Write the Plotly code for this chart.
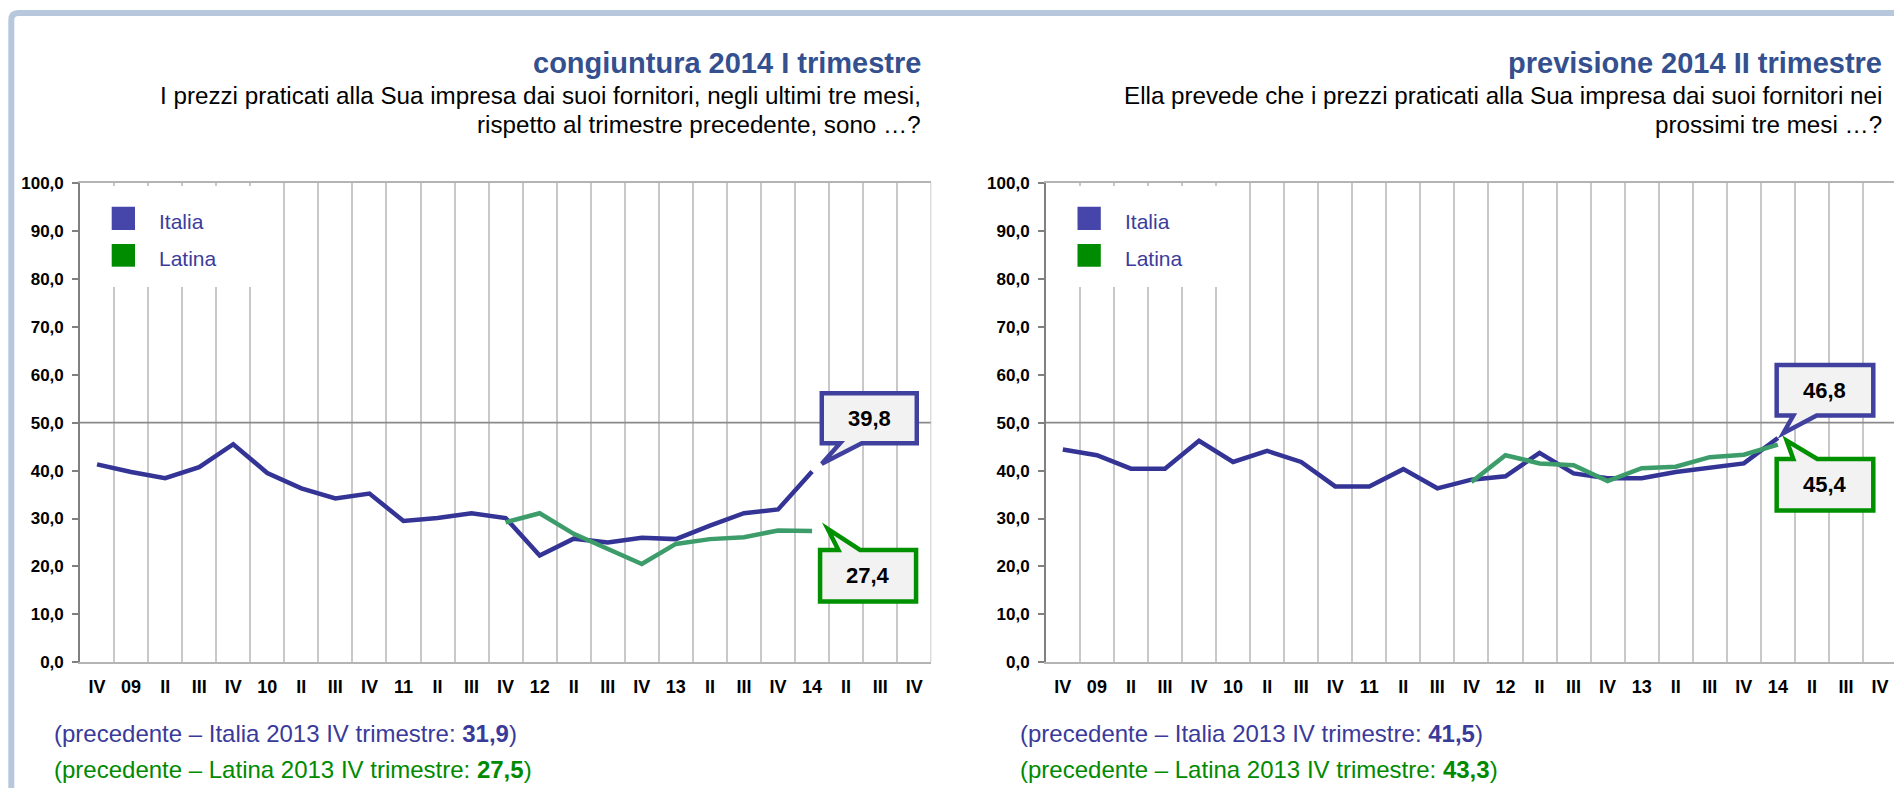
import plotly.graph_objects as go

# ---------------- data ----------------
categories = ["IV", "09", "II", "III", "IV", "10", "II", "III", "IV", "11", "II", "III",
              "IV", "12", "II", "III", "IV", "13", "II", "III", "IV", "14", "II", "III", "IV"]

cong_italia = [41.3, 39.7, 38.4, 40.7, 45.5, 39.5, 36.3, 34.2, 35.2, 29.5, 30.1, 31.1,
               30.1, 22.3, 25.8, 25.0, 26.0, 25.7, 28.5, 31.1, 31.9, 39.8]
cong_latina = [29.2, 31.1, 26.8, 23.6, 20.5, 24.7, 25.7, 26.1, 27.5, 27.4]

prev_italia = [44.4, 43.2, 40.4, 40.4, 46.2, 41.8, 44.1, 41.8, 36.7, 36.7, 40.3, 36.3,
               38.1, 38.8, 43.7, 39.4, 38.4, 38.4, 39.7, 40.7, 41.5, 46.8]
prev_latina = [37.6, 43.2, 41.5, 41.1, 37.8, 40.5, 40.8, 42.8, 43.3, 45.4]

latina_start = 12  # category index of first Latina value

y_tick_values = [0, 10, 20, 30, 40, 50, 60, 70, 80, 90, 100]
y_tick_labels = ["0,0", "10,0", "20,0", "30,0", "40,0", "50,0",
                 "60,0", "70,0", "80,0", "90,0", "100,0"]

titles = ["congiuntura 2014 I trimestre", "previsione 2014 II trimestre"]
subtitles = [
    ["I prezzi praticati alla Sua impresa dai suoi fornitori, negli ultimi tre mesi,",
     "rispetto al trimestre precedente, sono …?"],
    ["Ella prevede che i prezzi praticati alla Sua impresa dai suoi fornitori nei",
     "prossimi tre mesi …?"],
]

# ---------------- style / geometry ----------------
W, H = 1894, 788
FONT = "Liberation Sans, Arial, sans-serif"
PLOT_TOP, PLOT_BOT = 183.0, 662.3
CAT_W = 34.05
YPX = (PLOT_BOT - PLOT_TOP) / 100.0

C_TITLE = "#34508E"
C_ITALIA_LINE = "#343496"
C_LATINA_LINE = "#3C9D6B"
C_ITALIA_SQ = "#4646AA"
C_LATINA_SQ = "#008C00"
C_LEGEND_TXT = "#3C3C9C"
C_NOTE_IT = "#3A3A9A"
C_NOTE_LT = "#008A00"
C_GRID = "#C8C8C8"
C_FRAME = "#B8C8DC"

panels = [
    dict(x0=80.0, title_right=923.0, note_left=52.0,
         italia=cong_italia, latina=cong_latina,
         callouts=[
             # series, box dx0, dx1, dy0, dy1, base left, base right, tip dx, tip dy, tail side
             ("Italia", 9.7, 104.7, -78.4, -28.4, 28.0, 49.7, 9.7, -7.7, "bottom"),
             ("Latina", 8.0, 104.0, 19.0, 70.6, 26.3, 48.0, 15.7, -2.0, "top"),
         ]),
    dict(x0=1045.8, title_right=1884.0, note_left=1017.5,
         italia=prev_italia, latina=prev_latina,
         callouts=[
             ("Italia", -1.2, 95.4, -73.1, -22.4, 15.4, 38.8, 5.4, -4.8, "bottom"),
             ("Latina", -1.2, 95.4, 14.2, 65.9, 15.4, 39.4, 8.8, -4.1, "top"),
         ]),
]


def fmt(v):
    return f"{v:.1f}".replace(".", ",")


def px(x):
    return x / W


def py(y):
    return 1 - y / H


fig = go.Figure()
shapes = []
annotations = []
layout_axes = {}

for k, p in enumerate(panels):
    sfx = "" if k == 0 else str(k + 1)
    xref, yref = "x" + sfx, "y" + sfx
    x0 = p["x0"]
    x_end_px = min(x0 + len(categories) * CAT_W, W)
    x_range_end = -0.5 + (x_end_px - x0) / CAT_W

    def to_x(pxv, x0=x0):
        return (pxv - x0) / CAT_W - 0.5

    def to_y(pyv):
        return (PLOT_BOT - pyv) / YPX

    italia = p["italia"]
    latina = p["latina"]
    fig.add_trace(go.Scatter(
        x=list(range(len(italia))), y=italia, mode="lines", name="Italia",
        line=dict(color=C_ITALIA_LINE, width=4.5), xaxis=xref, yaxis=yref,
        showlegend=False, hoverinfo="skip"))
    fig.add_trace(go.Scatter(
        x=list(range(latina_start, latina_start + len(latina))), y=latina,
        mode="lines", name="Latina",
        line=dict(color=C_LATINA_LINE, width=4.5), xaxis=xref, yaxis=yref,
        showlegend=False, hoverinfo="skip"))

    layout_axes["xaxis" + sfx] = dict(
        domain=[px(x0), px(x_end_px)], range=[-0.5, x_range_end],
        anchor=yref, tickmode="array", tickvals=list(range(len(categories))),
        ticktext=categories, ticks="", showgrid=False, zeroline=False,
        showline=True, linecolor="#B4B4B4", linewidth=2, mirror=True,
        tickfont=dict(family=FONT, size=18, color="#000000", weight="bold"),
        ticklabelstandoff=7,
        minor=dict(tickmode="array",
                   tickvals=[i + 0.5 for i in range(len(categories) - 1)],
                   showgrid=True, gridcolor=C_GRID, gridwidth=1.6, ticks=""),
        fixedrange=True,
    )
    layout_axes["yaxis" + sfx] = dict(
        domain=[py(PLOT_BOT), py(PLOT_TOP)], range=[0, 100], anchor=xref,
        tickmode="array", tickvals=y_tick_values, ticktext=y_tick_labels,
        ticks="outside", ticklen=6, tickwidth=1.5, tickcolor="#808080",
        showline=True, linecolor="#808080", linewidth=1.6,
        showgrid=False, zeroline=False,
        tickfont=dict(family=FONT, size=17, color="#000000", weight="bold"),
        ticklabelstandoff=5, fixedrange=True,
    )

    # 50 line
    shapes.append(dict(type="line", xref=xref, yref=yref, x0=-0.5, x1=x_range_end,
                       y0=50, y1=50, line=dict(color="#8A8A8A", width=1.6),
                       layer="between"))
    # right border (if visible)
    if x0 + len(categories) * CAT_W <= W:
        shapes.append(dict(type="line", xref=xref, yref=yref,
                           x0=len(categories) - 0.5, x1=len(categories) - 0.5,
                           y0=0, y1=100, line=dict(color="#BEBEBE", width=1.6),
                           layer="between"))

    # legend box
    shapes.append(dict(type="rect", xref=xref, yref=yref,
                       x0=to_x(x0 + 1.5), x1=to_x(x0 + 188), y0=to_y(287), y1=to_y(186),
                       fillcolor="white", line=dict(width=0), layer="between"))
    for (nm, col, yt, yb, yc) in [("Italia", C_ITALIA_SQ, 206.7, 230.0, 221.5),
                                  ("Latina", C_LATINA_SQ, 244.0, 266.7, 258.0)]:
        shapes.append(dict(type="rect", xref=xref, yref=yref,
                           x0=to_x(x0 + 31.7), x1=to_x(x0 + 55.0),
                           y0=to_y(yb), y1=to_y(yt),
                           fillcolor=col, line=dict(width=0), layer="between"))
        annotations.append(dict(xref=xref, yref=yref, x=to_x(x0 + 77.0), y=to_y(yc),
                                text=nm, showarrow=False, xanchor="left", yanchor="middle",
                                font=dict(family=FONT, size=21, color=C_LEGEND_TXT)))

    # callouts
    for (ser, bx0, bx1, by0, by1, bl, br, tx, ty, side) in p["callouts"]:
        vals = italia if ser == "Italia" else latina
        ex = (len(vals) - 1) + (latina_start if ser == "Latina" else 0)
        ey = vals[-1]
        col = "#40409F" if ser == "Italia" else "#009000"

        def X(o, ex=ex):
            return ex + o / CAT_W

        def Y(o, ey=ey):
            return ey - o / YPX

        if side == "bottom":
            pts = [(bx0, by0), (bx1, by0), (bx1, by1), (br, by1), (tx, ty),
                   (bl, by1), (bx0, by1)]
        else:
            pts = [(bx0, by0), (bl, by0), (tx, ty), (br, by0), (bx1, by0),
                   (bx1, by1), (bx0, by1)]
        path = "M " + " L ".join(f"{X(a):.4f},{Y(b):.4f}" for a, b in pts) + " Z"
        shapes.append(dict(type="path", xref=xref, yref=yref, path=path,
                           fillcolor="#F2F2F2", line=dict(color=col, width=4.5),
                           layer="above"))
        annotations.append(dict(xref=xref, yref=yref, x=X((bx0 + bx1) / 2),
                                y=Y((by0 + by1) / 2), text=f"<b>{fmt(ey)}</b>",
                                showarrow=False, xanchor="center", yanchor="middle",
                                font=dict(family=FONT, size=22, color="#000000")))

    # titles
    annotations.append(dict(xref="paper", yref="paper", x=px(p["title_right"]), y=py(63),
                            text=f"<b>{titles[k]}</b>", showarrow=False,
                            xanchor="right", yanchor="middle",
                            font=dict(family=FONT, size=29, color=C_TITLE)))
    for j, line in enumerate(subtitles[k]):
        annotations.append(dict(xref="paper", yref="paper", x=px(p["title_right"]),
                                y=py(95 + 29.5 * j), text=line, showarrow=False,
                                xanchor="right", yanchor="middle",
                                font=dict(family=FONT, size=24.2, color="#000000")))

    # footnotes
    annotations.append(dict(
        xref="paper", yref="paper", x=px(p["note_left"]), y=py(733),
        text=f"(precedente – Italia 2013 IV trimestre: <b>{fmt(italia[-2])}</b>)",
        showarrow=False, xanchor="left", yanchor="middle",
        font=dict(family=FONT, size=24, color=C_NOTE_IT)))
    annotations.append(dict(
        xref="paper", yref="paper", x=px(p["note_left"]), y=py(769.5),
        text=f"(precedente – Latina 2013 IV trimestre: <b>{fmt(latina[-2])}</b>)",
        showarrow=False, xanchor="left", yanchor="middle",
        font=dict(family=FONT, size=24, color=C_NOTE_LT)))

# outer frame (top and left bars with rounded corner)
fx, fy, r = 11.3, 13.0, 7.0
frame_path = (f"M {px(fx)},{-0.01} L {px(fx)},{py(fy + r)} "
              f"Q {px(fx)},{py(fy)} {px(fx + r)},{py(fy)} L 1.01,{py(fy)}")
shapes.append(dict(type="path", xref="paper", yref="paper", path=frame_path,
                   line=dict(color=C_FRAME, width=6), layer="above"))

fig.update_layout(
    width=W, height=H,
    margin=dict(l=0, r=0, t=0, b=0, autoexpand=False),
    paper_bgcolor="white", plot_bgcolor="white",
    showlegend=False, hovermode=False,
    font=dict(family=FONT),
    shapes=shapes, annotations=annotations,
    **layout_axes,
)

fig.write_html(
    "out.html",
    config={"displayModeBar": False},
    post_script=("document.body.style.margin='0';"
                 "document.body.style.overflow='hidden';"
                 "document.documentElement.style.overflow='hidden';"),
)
